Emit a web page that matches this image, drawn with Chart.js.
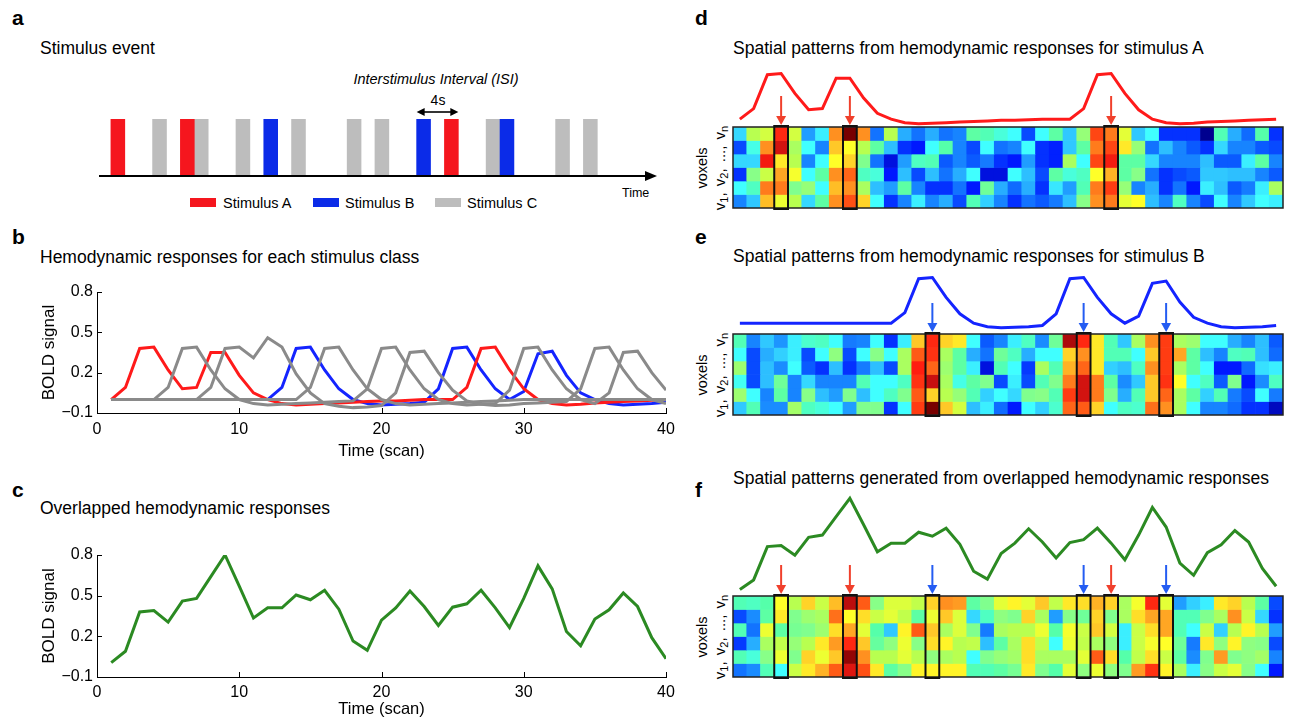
<!DOCTYPE html>
<html lang="en">
<head>
<meta charset="utf-8">
<title>Stimulus events and hemodynamic responses</title>
<script src="https://cdn.jsdelivr.net/npm/chart.js@4.4.1/dist/chart.umd.min.js"></script>
<style>
  html, body { margin: 0; padding: 0; }
  body {
    position: relative;
    width: 1290px;
    height: 719px;
    overflow: hidden;
    background: #fff;
    color: #000;
    font-family: "Liberation Sans", Arial, Helvetica, sans-serif;
  }
  canvas { position: absolute; }
  .letter { position: absolute; font-size: 21px; font-weight: bold; line-height: 24px; }
  .title { position: absolute; font-size: 17.5px; line-height: 20px; white-space: nowrap; }
  .note { position: absolute; font-size: 14.5px; line-height: 18px; white-space: nowrap; }
  .swatch { position: absolute; width: 26px; height: 9px; }
  .voxels {
    position: absolute;
    font-size: 14.5px;
    line-height: 17px;
    text-align: center;
    white-space: nowrap;
    transform: translate(-50%, -50%) rotate(-90deg);
  }
  .voxels .ids { font-size: 15px; word-spacing: 2px; }
  .voxels sub { font-size: 11px; line-height: 0; vertical-align: -3px; }
</style>
</head>
<body>

<div class="letter" style="left:12px; top:6px">a</div>
<div class="letter" style="left:12px; top:225px">b</div>
<div class="letter" style="left:12px; top:478px">c</div>
<div class="letter" style="left:695px; top:6px">d</div>
<div class="letter" style="left:695px; top:225px">e</div>
<div class="letter" style="left:695px; top:478px">f</div>

<div class="title" style="left:40px; top:38px">Stimulus event</div>
<div class="title" style="left:40px; top:247px">Hemodynamic responses for each stimulus class</div>
<div class="title" style="left:40px; top:498px">Overlapped hemodynamic responses</div>
<div class="title" style="left:733px; top:38px">Spatial patterns from hemodynamic responses for stimulus A</div>
<div class="title" style="left:733px; top:246px">Spatial patterns from hemodynamic responses for stimulus B</div>
<div class="title" style="left:733px; top:468px">Spatial patterns generated from overlapped hemodynamic responses</div>

<div class="note" style="left:336px; top:70px; width:200px; text-align:center; font-style:italic">Interstimulus Interval (ISI)</div>
<div class="note" style="left:418px; top:91px; width:40px; text-align:center; font-size:14px">4s</div>

<div class="swatch" style="left:190px; top:198px; background:#f5161e"></div>
<div class="note" style="left:223px; top:194px">Stimulus A</div>
<div class="swatch" style="left:313px; top:198px; background:#0b2be8"></div>
<div class="note" style="left:345px; top:194px">Stimulus B</div>
<div class="swatch" style="left:435px; top:198px; background:#bdbdbd"></div>
<div class="note" style="left:467px; top:194px">Stimulus C</div>
<div class="note" style="left:622px; top:185px; font-size:12.5px; line-height:16px">Time</div>

<div class="voxels" style="left:711px; top:168px">voxels<br><span class="ids">v<sub>1</sub>, v<sub>2</sub>, ..., v<sub>n</sub></span></div>
<div class="voxels" style="left:711px; top:375px">voxels<br><span class="ids">v<sub>1</sub>, v<sub>2</sub>, ..., v<sub>n</sub></span></div>
<div class="voxels" style="left:711px; top:637px">voxels<br><span class="ids">v<sub>1</sub>, v<sub>2</sub>, ..., v<sub>n</sub></span></div>

<canvas id="events" width="590" height="95" style="left:87px; top:95px"></canvas>
<canvas id="responses" width="670" height="195" style="left:20px; top:270px"></canvas>
<canvas id="overlapped" width="670" height="189" style="left:20px; top:530px"></canvas>

<canvas id="patternA" width="570" height="125" style="left:723px; top:90px"></canvas>
<canvas id="patternB" width="570" height="125" style="left:723px; top:297px"></canvas>
<canvas id="patternAll" width="570" height="125" style="left:723px; top:559px"></canvas>
<canvas id="traceA" width="550" height="75" style="left:733px; top:60px"></canvas>
<canvas id="traceB" width="550" height="75" style="left:733px; top:264px"></canvas>
<canvas id="traceAll" width="550" height="120" style="left:733px; top:486px"></canvas>

<script>
// stimulus onsets (scan index) for each class
const stimA = [1, 6, 25];
const stimB = [12, 23, 29];
const stimC = [4, 7, 10, 14, 18, 20, 28, 33, 35];
const isiPair = [23, 25];
const eventTimes = Array.from({ length: 39 }, (_, i) => i);

const scans = Array.from({ length: 40 }, (_, i) => i + 1);
const boldTicks = [-0.1, 0.2, 0.5, 0.8];

// BOLD responses per class, one value per scan
const respA = [0, 0.09, 0.38, 0.39, 0.22, 0.08, 0.09, 0.35, 0.35, 0.18,
  0.05, 0, -0.03, -0.04, -0.035, -0.03, -0.025, -0.02, -0.015, -0.01,
  -0.01, -0.005, 0, 0, 0, 0.09, 0.38, 0.39, 0.22, 0.08,
  0, -0.03, -0.04, -0.035, -0.025, -0.02, -0.015, -0.01, -0.005, 0];
const respB = [0, 0, 0, 0, 0, 0, 0, 0, 0, 0,
  0, 0, 0.09, 0.38, 0.39, 0.22, 0.08, 0, -0.03, -0.04,
  -0.035, -0.03, -0.02, 0.08, 0.38, 0.39, 0.22, 0.08, 0, 0.06,
  0.34, 0.36, 0.18, 0.05, 0, -0.03, -0.04, -0.035, -0.03, -0.02];
const respC1 = [0, 0, 0, 0, 0.09, 0.38, 0.39, 0.22, 0.08, 0,
  -0.03, -0.04, -0.035, -0.03, -0.025, -0.02, -0.015, -0.01, 0.08, 0.38,
  0.39, 0.22, 0.08, 0, -0.03, -0.04, -0.035, -0.03, 0.07, 0.38,
  0.39, 0.22, 0.08, 0, -0.03, 0.05, 0.35, 0.36, 0.2, 0.07];
const respC2 = [0, 0, 0, 0, 0, 0, 0, 0.09, 0.38, 0.39,
  0.31, 0.46, 0.39, 0.19, 0.05, -0.03, -0.05, -0.06, -0.055, -0.045,
  0.05, 0.35, 0.36, 0.2, 0.07, -0.01, -0.035, -0.045, -0.04, -0.03,
  -0.025, -0.02, -0.015, 0.08, 0.38, 0.39, 0.22, 0.08, 0, -0.03];
const respC3 = [0, 0, 0, 0, 0, 0, 0, 0, 0, 0,
  0, 0, 0, 0, 0.09, 0.38, 0.39, 0.22, 0.08, 0,
  -0.03, -0.04, -0.035, -0.03, -0.025, -0.02, -0.015, -0.01, -0.005, 0,
  0, 0, 0, 0, 0, 0, 0, 0, 0, 0];
const overlapped = [0.006, 0.09, 0.38, 0.39, 0.305, 0.46, 0.48, 0.64, 0.8, 0.57,
  0.335, 0.41, 0.41, 0.505, 0.47, 0.54, 0.4, 0.165, 0.097, 0.32,
  0.41, 0.535, 0.42, 0.28, 0.415, 0.44, 0.54, 0.41, 0.265, 0.48,
  0.72, 0.55, 0.236, 0.13, 0.327, 0.396, 0.52, 0.42, 0.19, 0.035];

// scans picked out in the voxel patterns
const markA = [4, 9, 28];
const markB = [15, 26, 32];

// voxel patterns, rows v_n (top) ... v_1 (bottom), colour level 0..10
const patternA = [
  [3.5, 6, 6.3, 8.8, 6.3, 2.8, 3.8, 7.8, 10, 7.8, 2.3, 6, 3, 2.3, 3, 2.3, 2.5, 4.8, 4.6, 4.3,
    4, 1.8, 4, 4.8, 3.3, 5.5, 8.5, 8, 6.5, 3.3, 4, 1.5, 1.5, 1.5, 0.5, 4.6, 3, 2.2, 4.7, 1.5],
  [1.8, 4.2, 7.8, 9.3, 5.8, 4, 2.5, 7.3, 6.8, 6, 4.8, 3.2, 1.5, 1.2, 4, 4.7, 2.5, 1.8, 4, 2.3,
    2.5, 4, 1.5, 1.3, 3.3, 4.8, 8, 8.5, 7, 5.5, 2.3, 3.2, 2.5, 2, 1.5, 3.5, 2.5, 2.5, 2, 1.8],
  [3.5, 3.5, 9, 7, 6, 2.5, 4, 6.8, 7.2, 5.2, 2.3, 1, 2.8, 4.5, 4.6, 2, 2.5, 2, 2.4, 1.5,
    1.2, 2.8, 1.5, 1.3, 5.8, 4, 8.5, 9, 4.8, 4.8, 3.5, 2.5, 2.5, 2.5, 3.2, 2, 2, 3.8, 4.8, 2.5],
  [1.5, 5.3, 6.2, 7.6, 6.7, 4, 4.8, 7.8, 8.2, 4.5, 4.3, 1.2, 3.2, 1.8, 3.2, 2.3, 3, 4, 1, 1,
    4, 3.2, 1.8, 4.8, 4.3, 4.5, 6.8, 7.5, 4.8, 5.3, 2.3, 1.5, 1.8, 2, 3.3, 3.3, 3.2, 3.2, 2.5, 2],
  [4, 4.5, 8, 8, 5.2, 5.5, 4, 7.4, 7.8, 5.8, 3.2, 2.8, 4.8, 2.5, 1.5, 1.5, 2.3, 1.2, 5, 3,
    2.2, 3, 1.5, 3.7, 2.8, 4.6, 8, 8.6, 5.5, 2.5, 3, 1.5, 2.3, 1.2, 3.8, 3.2, 2, 2.4, 3.8, 5.8],
  [2.5, 3.3, 7.4, 6.6, 6, 3.5, 4.8, 7.8, 8.4, 7.2, 4, 1.5, 2.5, 3.8, 2.5, 3, 1.8, 4.6, 3.4, 2.5,
    1.5, 2.3, 2, 2.4, 3.2, 5.3, 7.8, 8, 6.5, 6.8, 3.2, 2.5, 4.5, 2.5, 1.8, 4, 2.5, 3.3, 4, 3.8],
];
const patternB = [
  [4.6, 2.5, 3.3, 2.7, 3.8, 4.4, 4.5, 4, 2.4, 2.5, 4, 1.5, 3.8, 7.3, 8.8, 7.2, 7, 4, 2, 2.5,
    3.8, 4.5, 2.6, 5, 9.6, 8.8, 7, 4.6, 3.3, 5.8, 7.8, 8.6, 5.8, 5.6, 4, 4, 3, 2.5, 3.2, 2],
  [4, 1.8, 3, 3.4, 3.8, 1.8, 4, 5.4, 1.8, 4, 5.3, 4, 5.8, 8.3, 8.7, 5.8, 4.8, 3, 2.3, 5,
    4.5, 3, 4, 4, 7.2, 7.8, 7, 4.6, 4.6, 4, 7.3, 8.6, 7.6, 4.8, 3.2, 2.5, 4.5, 4.6, 3.2, 2.2],
  [5.6, 1.8, 3.2, 2.6, 4, 2, 1.5, 3.2, 1.5, 2.4, 3.2, 1.8, 5.8, 8.9, 8.2, 5.6, 4.8, 3.8, 1, 4.6,
    4, 1.6, 5.8, 4.6, 7.5, 8.2, 7, 3.4, 3.2, 4.5, 7.8, 8.6, 5.8, 4.8, 4, 1.2, 1.2, 2.2, 3.6, 3.8],
  [4.1, 1.8, 3.2, 5, 2.5, 3.5, 2.5, 2.5, 2.5, 4.6, 4, 4, 4.5, 8.7, 9.4, 5.8, 4.2, 4.8, 5.2, 1.8,
    3.8, 1.8, 4.6, 5.2, 8, 9.3, 8, 4.8, 2.6, 3.3, 7.3, 8.7, 6.8, 4, 4.5, 2, 5.2, 1.2, 2.6, 4.5],
  [5.6, 4, 2.5, 4.8, 2.5, 5.3, 3.2, 2.8, 5.2, 3.2, 4, 4.5, 5.2, 8.3, 7.2, 6, 5.5, 4.6, 3.4, 4,
    3.5, 5.2, 5.3, 4.6, 8.6, 9.3, 8, 5.2, 3, 4.6, 7.3, 8.2, 5.8, 4.8, 3.4, 4.6, 2.4, 1.8, 4, 2.4],
  [3.3, 4.6, 2.6, 2.6, 5.7, 4.5, 4.3, 4, 2.8, 5.2, 5.2, 1.5, 4, 8.6, 10, 7.3, 6.3, 3.2, 3.8, 2.2,
    1.2, 4, 3.4, 4.4, 8.2, 8.3, 7.2, 4, 4.5, 4.4, 8.1, 7.8, 5.8, 4, 2.5, 2.5, 2.2, 1.5, 1.5, 0.8],
];
const patternAll = [
  [4.6, 4.5, 4.7, 6.8, 6, 7.2, 6.2, 7.4, 9.5, 8.3, 5.3, 6.4, 6.4, 6.1, 7.2, 7.8, 7.7, 4.8, 5.2, 6.5,
    6.9, 6.5, 7.3, 6.1, 7, 7.1, 7.5, 7.2, 5.8, 6.7, 8.8, 6.5, 2.8, 3.4, 3.8, 7, 7.2, 6, 4.8, 1.8],
  [1.8, 2.6, 4.8, 7, 5.2, 5.6, 5.8, 8.1, 6.8, 7.1, 6.2, 6.5, 6.1, 4.8, 6.6, 7.3, 6.4, 3.5, 4.5, 5.4,
    5.2, 7.2, 5.8, 2.8, 5.3, 5, 7.2, 5.2, 5.8, 7.1, 7.6, 7.6, 4.6, 4.6, 5.2, 5.8, 7.8, 6.2, 3.5, 1.5],
  [4.6, 2.3, 6.6, 4.8, 5.1, 5.2, 5.6, 7.1, 7.6, 6.5, 4.7, 3.3, 6.9, 8.3, 7.3, 5.8, 6.4, 5.2, 2.4, 5.8,
    6, 6, 6.6, 4.7, 6.7, 6.2, 7.3, 6.3, 3.8, 6.2, 7.1, 7.6, 4.6, 4, 6.2, 3.4, 6, 6.9, 6, 2.8],
  [1.6, 3, 5.8, 6.1, 5.5, 6, 7, 7.7, 8.8, 7.3, 4.9, 5.4, 6.6, 5.3, 7.1, 6.9, 6, 6.1, 3.2, 4.8,
    5.8, 7.1, 6.1, 4, 6.6, 6.1, 5.8, 5.4, 3.8, 6.2, 6.7, 6.8, 5, 2.4, 7, 5.4, 6.9, 5.4, 5.3, 1.8],
  [4.6, 4.3, 5.3, 6.6, 5.2, 7.2, 6.6, 7.3, 9.8, 7.8, 6, 6, 6.5, 6, 5.4, 5.8, 6, 4, 5.2, 5.5,
    5.7, 7.1, 5.8, 5.8, 5.8, 6.5, 8.3, 7.1, 4.7, 6.1, 7.1, 6.2, 4.8, 2.6, 5.2, 7.7, 5.2, 5.4, 5.7, 2.5],
  [2.3, 2.6, 4.6, 4, 6.2, 7, 7.5, 8.3, 9.2, 8.4, 7, 4.8, 5.3, 6.9, 6.9, 6.9, 6.9, 4.6, 4.6, 4.8,
    5.1, 7, 5.2, 4.7, 6.5, 5.4, 6.6, 5.4, 5.2, 7.7, 8.7, 6.9, 5.8, 3.8, 5.3, 6.2, 6.5, 5.3, 4, 1.2],
];

const RED = "#f5161e";
const BLUE = "#0b2be8";
const GRAY = "#bdbdbd";
const LINE_RED = "#ff1a1a";
const LINE_BLUE = "#1424ff";
const LINE_GRAY = "#8a8a8a";
const GREEN = "#2b8a22";
const ARROW_RED = "#f0402c";
const ARROW_BLUE = "#245cf2";

Chart.defaults.font.family = '"Liberation Sans", Arial, sans-serif';
Chart.defaults.color = "#000";
Chart.defaults.animation = false;
Chart.defaults.plugins.legend.display = false;
Chart.defaults.plugins.tooltip.enabled = false;

// jet-like colour scale
const jetStops = [
  [0.5, "#00008f"], [1.2, "#0018ff"], [2, "#0a5aff"], [2.6, "#1a8cff"], [3.3, "#30c8ff"],
  [4, "#40ffff"], [4.7, "#55ffaa"], [5.3, "#88ff88"], [6, "#b8ff50"], [6.8, "#ffff28"],
  [7.3, "#ffc828"], [7.8, "#ff9020"], [8.4, "#ff5014"], [8.9, "#ff1e10"], [9.4, "#c81010"],
  [10, "#780000"],
];

function hexToRgb(h) {
  return [1, 3, 5].map((i) => parseInt(h.slice(i, i + 2), 16));
}

function jet(v) {
  if (v <= jetStops[0][0]) return jetStops[0][1];
  for (let i = 1; i < jetStops.length; i++) {
    const [v1, c1] = jetStops[i];
    if (v <= v1) {
      const [v0, c0] = jetStops[i - 1];
      const t = (v - v0) / (v1 - v0);
      const a = hexToRgb(c0), b = hexToRgb(c1);
      const rgb = a.map((x, k) => Math.round(x + (b[k] - x) * t));
      return "rgb(" + rgb.join(",") + ")";
    }
  }
  return jetStops[jetStops.length - 1][1];
}

// panel a: event axis with arrow, ISI marker
const eventAxis = {
  id: "eventAxis",
  afterDatasetsDraw(chart) {
    const { ctx, chartArea, scales } = chart;
    const y0 = chartArea.bottom;
    const tip = chartArea.right + 18;
    ctx.save();
    ctx.strokeStyle = "#000";
    ctx.fillStyle = "#000";
    ctx.lineWidth = 2;
    ctx.beginPath();
    ctx.moveTo(chartArea.left + 2, y0);
    ctx.lineTo(tip - 8, y0);
    ctx.stroke();
    ctx.beginPath();
    ctx.moveTo(tip, y0);
    ctx.lineTo(tip - 12, y0 - 5);
    ctx.lineTo(tip - 12, y0 + 5);
    ctx.closePath();
    ctx.fill();

    const half = (scales.x.getPixelForValue(1) - scales.x.getPixelForValue(0)) / 2;
    const x1 = scales.x.getPixelForValue(isiPair[0]) - half;
    const x2 = scales.x.getPixelForValue(isiPair[1]) + half;
    const ya = chartArea.top - 7;
    ctx.lineWidth = 1.6;
    ctx.beginPath();
    ctx.moveTo(x1 + 6, ya);
    ctx.lineTo(x2 - 6, ya);
    ctx.stroke();
    ctx.beginPath();
    ctx.moveTo(x1, ya);
    ctx.lineTo(x1 + 8, ya - 4);
    ctx.lineTo(x1 + 8, ya + 4);
    ctx.closePath();
    ctx.moveTo(x2, ya);
    ctx.lineTo(x2 - 8, ya - 4);
    ctx.lineTo(x2 - 8, ya + 4);
    ctx.closePath();
    ctx.fill();
    ctx.restore();
  },
};

function onsets(list) {
  return eventTimes.map((t) => (list.includes(t) ? 1 : null));
}

new Chart(document.getElementById("events"), {
  type: "bar",
  data: {
    labels: eventTimes,
    datasets: [
      { label: "Stimulus A", data: onsets(stimA), backgroundColor: RED },
      { label: "Stimulus B", data: onsets(stimB), backgroundColor: BLUE },
      { label: "Stimulus C", data: onsets(stimC), backgroundColor: GRAY },
    ],
  },
  options: {
    responsive: false,
    layout: { padding: { left: 10, right: 38, top: 24, bottom: 14 } },
    datasets: { bar: { barPercentage: 1, categoryPercentage: 1, grouped: false } },
    scales: {
      x: { display: false },
      y: { display: false, min: 0, max: 1 },
    },
  },
  plugins: [eventAxis],
});

// inward tick marks (matlab style)
const innerTicks = {
  id: "innerTicks",
  afterDraw(chart) {
    const { ctx, chartArea, scales } = chart;
    ctx.save();
    ctx.strokeStyle = "#000";
    ctx.lineWidth = 1;
    scales.x.ticks.forEach((t) => {
      const px = Math.round(scales.x.getPixelForValue(t.value)) + 0.5;
      ctx.beginPath();
      ctx.moveTo(px, chartArea.bottom);
      ctx.lineTo(px, chartArea.bottom - 5);
      ctx.stroke();
    });
    scales.y.ticks.forEach((t) => {
      const py = Math.round(scales.y.getPixelForValue(t.value)) + 0.5;
      ctx.beginPath();
      ctx.moveTo(chartArea.left, py);
      ctx.lineTo(chartArea.left + 5, py);
      ctx.stroke();
    });
    ctx.restore();
  },
};

function signalScales(xAxisHeight, titlePad, tickPad) {
  return {
    x: {
      type: "linear",
      min: 0,
      max: 40,
      grid: { display: false, drawTicks: false },
      border: { color: "#000", width: 1 },
      ticks: { stepSize: 10, padding: tickPad, maxRotation: 0, font: { size: 16 } },
      title: {
        display: true,
        text: "Time (scan)",
        font: { size: 16.5 },
        padding: { top: 0, bottom: titlePad },
      },
      afterFit: (s) => { s.height = xAxisHeight; },
    },
    y: {
      min: -0.1,
      max: 0.8,
      grid: { display: false, drawTicks: false },
      border: { color: "#000", width: 1 },
      afterBuildTicks: (s) => { s.ticks = boldTicks.map((v) => ({ value: v })); },
      ticks: {
        padding: 4,
        font: { size: 16 },
        callback: (v) => (v < 0 ? "\u2212" + Math.abs(v).toFixed(1) : v.toFixed(1)),
      },
      title: {
        display: true,
        text: "BOLD signal",
        font: { size: 17 },
        padding: { top: 19, bottom: 0 },
      },
      afterFit: (s) => { s.width = 77; },
    },
  };
}

function lineSet(values, color) {
  return {
    data: values.map((v, i) => ({ x: scans[i], y: v })),
    borderColor: color,
    borderWidth: 3,
    pointRadius: 0,
    tension: 0,
  };
}

new Chart(document.getElementById("responses"), {
  type: "line",
  data: {
    datasets: [
      lineSet(respC1, LINE_GRAY),
      lineSet(respC2, LINE_GRAY),
      lineSet(respC3, LINE_GRAY),
      lineSet(respA, LINE_RED),
      lineSet(respB, LINE_BLUE),
    ],
  },
  options: {
    responsive: false,
    layout: { padding: { top: 22, right: 24, left: 0, bottom: 0 } },
    scales: signalScales(52, 4, 7),
  },
  plugins: [innerTicks],
});

new Chart(document.getElementById("overlapped"), {
  type: "line",
  data: { datasets: [lineSet(overlapped, GREEN)] },
  options: {
    responsive: false,
    layout: { padding: { top: 25, right: 24, left: 0, bottom: 0 } },
    scales: signalScales(42, 0, 6),
  },
  plugins: [innerTicks],
});

// panels d-f: voxel pattern grids
function patternFrame(marks) {
  return {
    id: "patternFrame",
    afterDatasetsDraw(chart) {
      const { ctx, chartArea: area, scales } = chart;
      const half = (scales.x.getPixelForValue(1) - scales.x.getPixelForValue(0)) / 2;
      ctx.save();
      ctx.strokeStyle = "#222";
      ctx.lineWidth = 1.5;
      ctx.strokeRect(area.left, area.top, area.right - area.left, area.bottom - area.top);
      marks.forEach((m) => {
        const x = scales.x.getPixelForValue(m.scan - 1);
        ctx.strokeStyle = "#111";
        ctx.lineWidth = 2;
        ctx.strokeRect(x - half, area.top - 1, half * 2, area.bottom - area.top + 2);
        ctx.strokeStyle = m.color;
        ctx.fillStyle = m.color;
        ctx.beginPath();
        ctx.moveTo(x, area.top - 31);
        ctx.lineTo(x, area.top - 10);
        ctx.stroke();
        ctx.beginPath();
        ctx.moveTo(x - 5, area.top - 11);
        ctx.lineTo(x + 5, area.top - 11);
        ctx.lineTo(x, area.top - 2);
        ctx.closePath();
        ctx.fill();
      });
      ctx.restore();
    },
  };
}

function patternChart(id, rows, marks) {
  return new Chart(document.getElementById(id), {
    type: "bar",
    data: {
      labels: scans,
      datasets: rows.map((row, i) => ({
        data: row.map(() => [rows.length - 1 - i, rows.length - i]),
        backgroundColor: row.map(jet),
      })),
    },
    options: {
      responsive: false,
      layout: { padding: { left: 10, right: 10, top: 37, bottom: 7 } },
      datasets: { bar: { barPercentage: 1, categoryPercentage: 1, grouped: false, borderWidth: 0 } },
      scales: {
        x: { display: false },
        y: { display: false, min: 0, max: rows.length },
      },
    },
    plugins: [patternFrame(marks)],
  });
}

function traceChart(id, values, color, yMax) {
  return new Chart(document.getElementById(id), {
    type: "line",
    data: { datasets: [Object.assign(lineSet(values, color), { clip: false })] },
    options: {
      responsive: false,
      layout: { padding: { top: 10, bottom: 10, left: 0, right: 0 } },
      scales: {
        x: { type: "linear", display: false, min: 0.5, max: 40.5 },
        y: { display: false, min: -0.05, max: yMax },
      },
    },
  });
}

const marksA = markA.map((s) => ({ scan: s, color: ARROW_RED }));
const marksB = markB.map((s) => ({ scan: s, color: ARROW_BLUE }));

patternChart("patternA", patternA, marksA);
patternChart("patternB", patternB, marksB);
patternChart("patternAll", patternAll, marksA.concat(marksB));

traceChart("traceA", respA, LINE_RED, 0.42);
traceChart("traceB", respB, LINE_BLUE, 0.42);
traceChart("traceAll", overlapped, GREEN, 0.82);
</script>
</body>
</html>
